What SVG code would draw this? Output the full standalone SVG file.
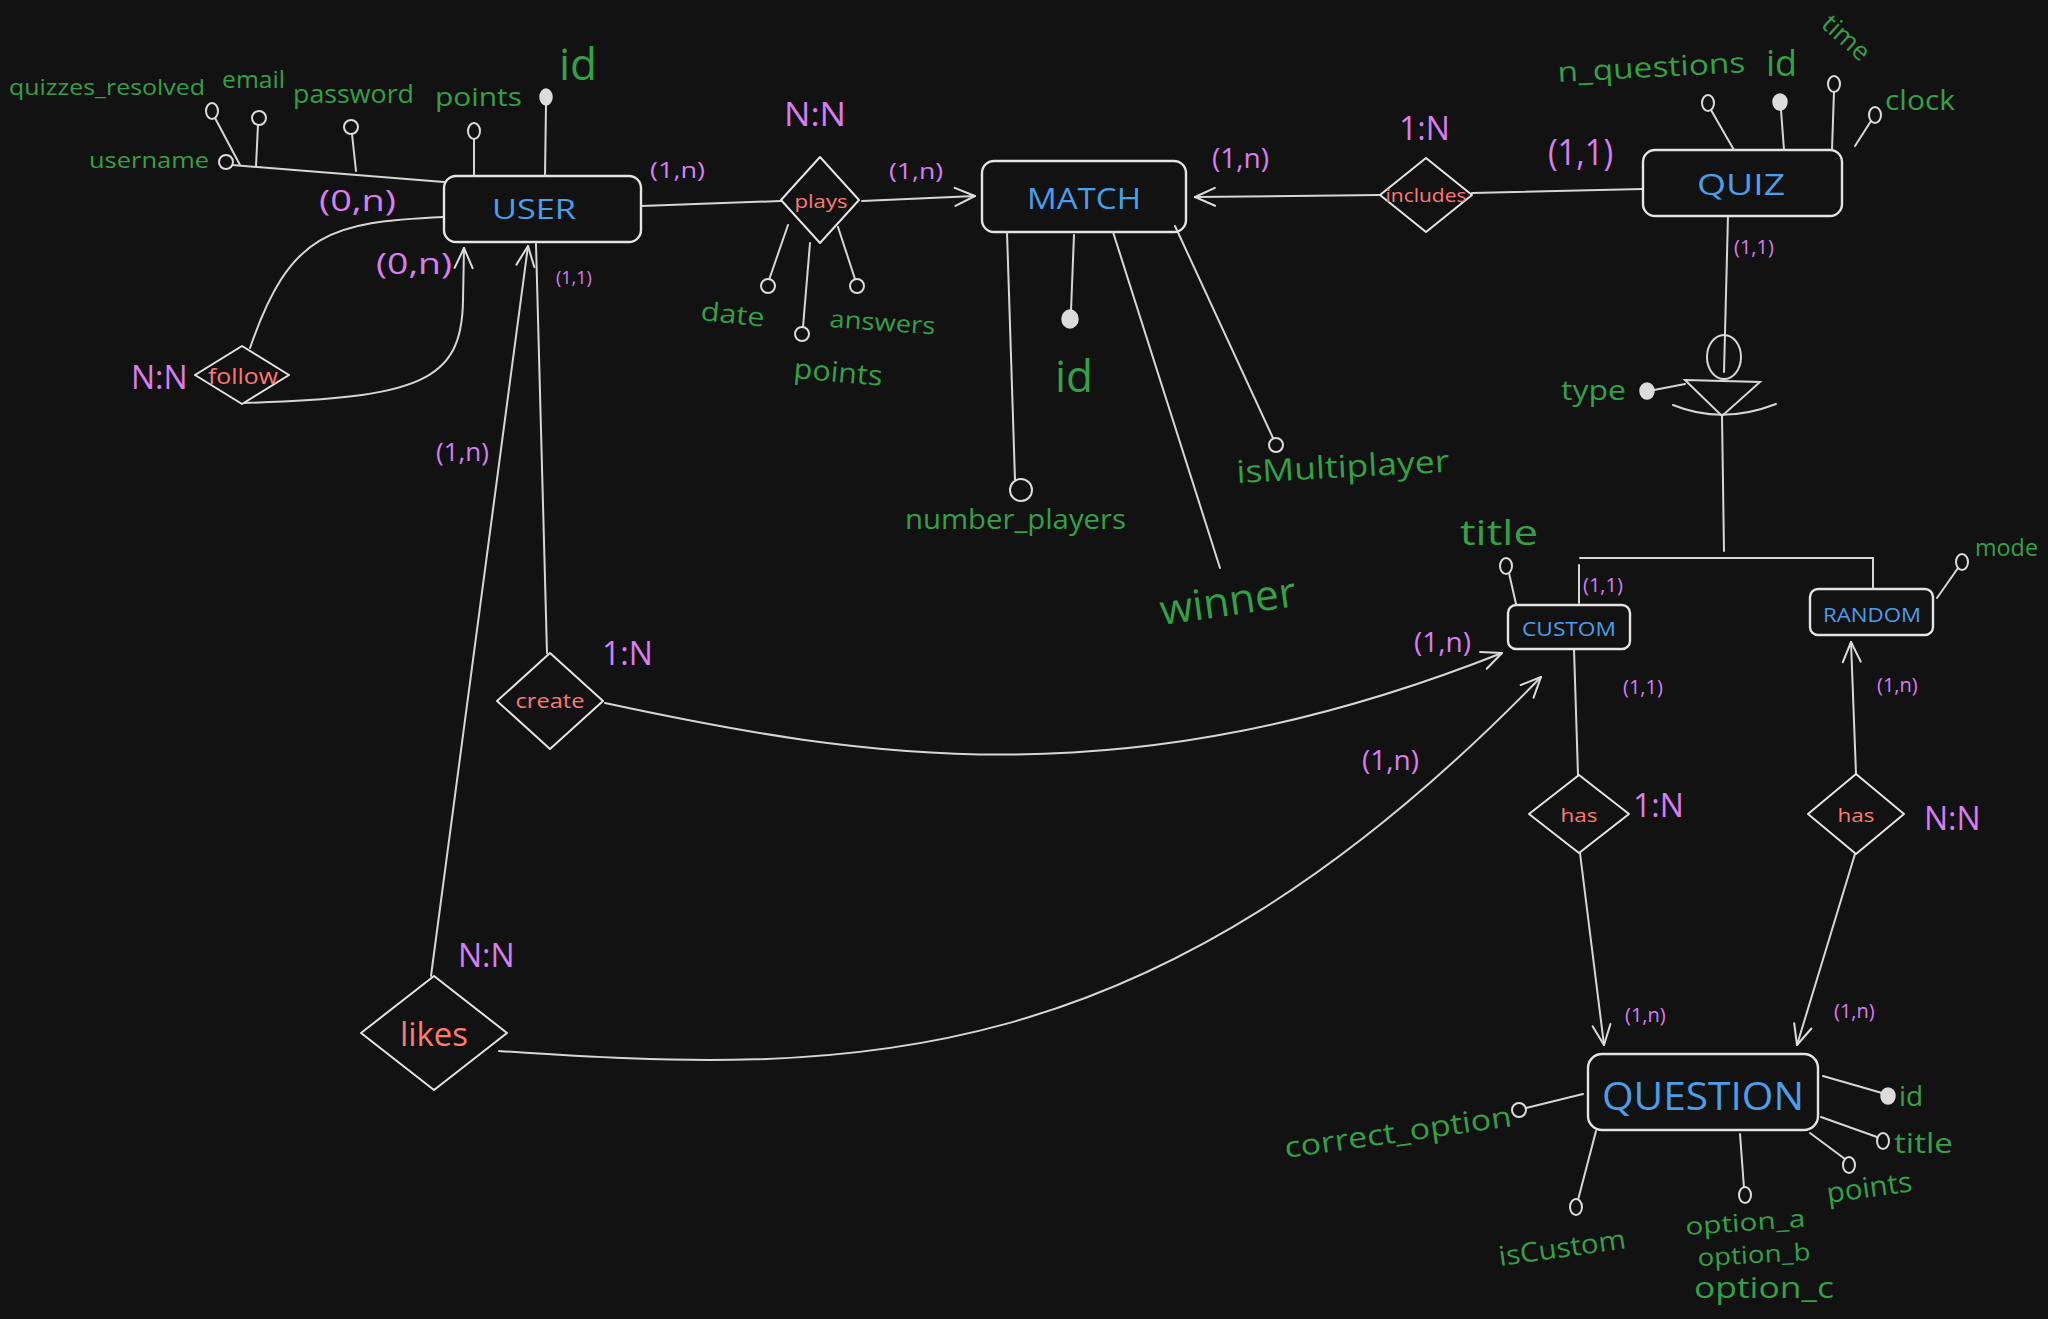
<svg xmlns="http://www.w3.org/2000/svg" width="2048" height="1319" viewBox="0 0 2048 1319">
<defs>
<marker id="arr" markerWidth="26" markerHeight="26" refX="22" refY="13" orient="auto" markerUnits="userSpaceOnUse">
<path d="M2,4 L22,13 L2,22" fill="none" stroke="#dcdcdc" stroke-width="2" stroke-linecap="round" stroke-linejoin="round"/>
</marker>
</defs>
<style>
.ent{fill:#121212;stroke:#e4e4e4;stroke-width:2.4}
.rel{fill:#121212;stroke:#e4e4e4;stroke-width:2;stroke-linejoin:round}
.ln{fill:none;stroke:#d6d6d6;stroke-width:2;stroke-linecap:round}
.ao{fill:#121212;stroke:#dcdcdc;stroke-width:2}
.af{fill:#dcdcdc;stroke:#dcdcdc;stroke-width:1.5}
text{font-family:"Open Sans","Noto Sans",sans-serif}
.et{fill:#4a9fea;text-anchor:middle;dominant-baseline:central}
.rt{fill:#ff7a72;text-anchor:middle;dominant-baseline:central}
.g{fill:#34a048}
.p{fill:#d97ef0}
</style>
<rect width="2048" height="1319" fill="#121212"/>

<g id="connectors">
<path class="ln" d="M641,206 L781,201"/>
<path class="ln" d="M862,201 L975,196" marker-end="url(#arr)"/>
<path class="ln" d="M1380,195 L1195,197" marker-end="url(#arr)"/>
<path class="ln" d="M1472,193 L1643,189"/>
<path class="ln" d="M444,217 C330,222 290,232 250,348"/>
<path class="ln" d="M242,403 C420,398 462,382 463,300 L464,248" marker-end="url(#arr)"/>
<path class="ln" d="M547,653 L536,244"/>
<path class="ln" d="M431,976 L528,246" marker-end="url(#arr)"/>
<path class="ln" d="M605,703 C870,760 1130,800 1502,653" marker-end="url(#arr)"/>
<path class="ln" d="M499,1051 C850,1075 1150,1080 1541,677" marker-end="url(#arr)"/>
<path class="ln" d="M1728,216 L1724,372"/>
<path class="ln" d="M1722,416 L1724,551"/>
<path class="ln" d="M1580,558 L1873,558"/>
<path class="ln" d="M1579,565 L1579,603"/>
<path class="ln" d="M1873,558 L1873,600"/>
<path class="ln" d="M1574,649 L1578,775"/>
<path class="ln" d="M1580,853 L1604,1045" marker-end="url(#arr)"/>
<path class="ln" d="M1856,774 L1851,642" marker-end="url(#arr)"/>
<path class="ln" d="M1855,854 L1797,1045" marker-end="url(#arr)"/>
</g>

<g id="labels">
<text class="p" x="319" y="211" font-size="30" textLength="77" lengthAdjust="spacingAndGlyphs">(0,n)</text>
<text class="p" x="376" y="274" font-size="30" textLength="76" lengthAdjust="spacingAndGlyphs">(0,n)</text>
<text class="p" x="556" y="284" font-size="18">(1,1)</text>
<text class="p" x="650" y="178" font-size="22" textLength="55" lengthAdjust="spacingAndGlyphs">(1,n)</text>
<text class="p" x="131" y="389" font-size="32">N:N</text>
<text class="p" x="784" y="126" font-size="32" textLength="62" lengthAdjust="spacingAndGlyphs">N:N</text>
<text class="p" x="889" y="179" font-size="22" textLength="54" lengthAdjust="spacingAndGlyphs">(1,n)</text>
<text class="p" x="1212" y="168" font-size="28">(1,n)</text>
<text class="p" x="1399" y="140" font-size="32">1:N</text>
<text class="p" x="1548" y="165" font-size="36" textLength="65" lengthAdjust="spacingAndGlyphs">(1,1)</text>
<text class="p" x="1734" y="254" font-size="20">(1,1)</text>
<text class="p" x="1583" y="592" font-size="20">(1,1)</text>
<text class="p" x="1414" y="652" font-size="28">(1,n)</text>
<text class="p" x="1362" y="770" font-size="28">(1,n)</text>
<text class="p" x="1623" y="694" font-size="20">(1,1)</text>
<text class="p" x="1633" y="817" font-size="32">1:N</text>
<text class="p" x="1625" y="1022" font-size="20">(1,n)</text>
<text class="p" x="1877" y="692" font-size="20">(1,n)</text>
<text class="p" x="1924" y="830" font-size="32">N:N</text>
<text class="p" x="1834" y="1018" font-size="20">(1,n)</text>
<text class="p" x="602" y="665" font-size="32">1:N</text>
<text class="p" x="458" y="967" font-size="32">N:N</text>
<text class="p" x="436" y="461" font-size="26">(1,n)</text>
</g>

<g id="user">
<rect class="ent" x="444" y="176" width="197" height="66" rx="12"/>
<text class="et" x="534" y="208" font-size="28" textLength="84" lengthAdjust="spacingAndGlyphs">USER</text>
<path class="ln" d="M232,165 L444,182"/>
<circle class="ao" cx="226" cy="162" r="7"/>
<text class="g" x="209" y="168" font-size="22" text-anchor="end" textLength="120" lengthAdjust="spacingAndGlyphs">username</text>
<path class="ln" d="M215,118 L240,165"/>
<ellipse class="ao" cx="212" cy="111" rx="6" ry="8"/>
<text class="g" x="9" y="95" font-size="21" textLength="196" lengthAdjust="spacingAndGlyphs">quizzes_resolved</text>
<path class="ln" d="M258,125 L256,166"/>
<circle class="ao" cx="259" cy="118" r="7"/>
<text class="g" x="222" y="88" font-size="23" textLength="63" lengthAdjust="spacingAndGlyphs">email</text>
<path class="ln" d="M352,134 L356,171"/>
<circle class="ao" cx="351" cy="127" r="7"/>
<text class="g" x="293" y="103" font-size="25" textLength="121" lengthAdjust="spacingAndGlyphs">password</text>
<path class="ln" d="M474,138 L474,176"/>
<ellipse class="ao" cx="474" cy="131" rx="6" ry="8"/>
<text class="g" x="435" y="106" font-size="26" textLength="87" lengthAdjust="spacingAndGlyphs">points</text>
<path class="ln" d="M546,104 L545,176"/>
<ellipse class="af" cx="546" cy="97" rx="6" ry="8"/>
<text class="g" x="559" y="80" font-size="44">id</text>
</g>

<g id="follow">
<path class="rel" d="M242,346 L289,375 L242,404 L195,375 Z"/>
<text class="rt" x="243" y="375" font-size="22" textLength="70" lengthAdjust="spacingAndGlyphs">follow</text>
</g>

<g id="plays">
<path class="rel" d="M820,157 L859,200 L820,243 L781,200 Z"/>
<text class="rt" x="821" y="201" font-size="18" textLength="53" lengthAdjust="spacingAndGlyphs">plays</text>
<path class="ln" d="M788,225 L769,280"/>
<circle class="ao" cx="768" cy="286" r="7"/>
<text class="g" x="700" y="320" font-size="26" transform="rotate(6 700 320)" textLength="64" lengthAdjust="spacingAndGlyphs">date</text>
<path class="ln" d="M810,243 L803,327"/>
<circle class="ao" cx="802" cy="334" r="7"/>
<text class="g" x="793" y="378" font-size="28" transform="rotate(5 793 378)" textLength="89" lengthAdjust="spacingAndGlyphs">points</text>
<path class="ln" d="M838,227 L855,279"/>
<circle class="ao" cx="857" cy="286" r="7"/>
<text class="g" x="829" y="327" font-size="24" transform="rotate(4 829 327)" textLength="106" lengthAdjust="spacingAndGlyphs">answers</text>
</g>

<g id="match">
<rect class="ent" x="982" y="161" width="204" height="71" rx="12"/>
<text class="et" x="1084" y="197" font-size="30" textLength="114" lengthAdjust="spacingAndGlyphs">MATCH</text>
<path class="ln" d="M1007,232 L1015,480"/>
<circle class="ao" cx="1021" cy="490" r="11"/>
<text class="g" x="905" y="529" font-size="27" textLength="221" lengthAdjust="spacingAndGlyphs">number_players</text>
<path class="ln" d="M1074,235 L1071,311"/>
<ellipse class="af" cx="1070" cy="319" rx="8" ry="9"/>
<text class="g" x="1055" y="392" font-size="44">id</text>
<path class="ln" d="M1113,232 L1220,568"/>
<text class="g" x="1162" y="625" font-size="42" transform="rotate(-8 1162 625)" textLength="137" lengthAdjust="spacingAndGlyphs">winner</text>
<path class="ln" d="M1175,226 L1273,438"/>
<circle class="ao" cx="1276" cy="445" r="7"/>
<text class="g" x="1237" y="483" font-size="31" transform="rotate(-3 1237 483)" textLength="213" lengthAdjust="spacingAndGlyphs">isMultiplayer</text>
</g>

<g id="includes">
<path class="rel" d="M1426,158 L1472,195 L1426,232 L1380,195 Z"/>
<text class="rt" x="1426" y="195" font-size="18" textLength="81" lengthAdjust="spacingAndGlyphs">includes</text>
</g>

<g id="quiz">
<rect class="ent" x="1643" y="150" width="199" height="66" rx="12"/>
<text class="et" x="1741" y="183" font-size="30" textLength="88" lengthAdjust="spacingAndGlyphs">QUIZ</text>
<path class="ln" d="M1711,110 L1734,150"/>
<ellipse class="ao" cx="1708" cy="103" rx="6" ry="8"/>
<text class="g" x="1558" y="82" font-size="28" transform="rotate(-3 1558 82)" textLength="188" lengthAdjust="spacingAndGlyphs">n_questions</text>
<path class="ln" d="M1781,110 L1784,150"/>
<ellipse class="af" cx="1780" cy="102" rx="7" ry="8"/>
<text class="g" x="1766" y="76" font-size="36">id</text>
<path class="ln" d="M1834,91 L1832,150"/>
<ellipse class="ao" cx="1834" cy="84" rx="6" ry="8"/>
<text class="g" x="1820" y="26" font-size="26" transform="rotate(42 1820 26)">time</text>
<path class="ln" d="M1871,121 L1855,146"/>
<ellipse class="ao" cx="1875" cy="115" rx="6" ry="8"/>
<text class="g" x="1885" y="110" font-size="28" textLength="70" lengthAdjust="spacingAndGlyphs">clock</text>
</g>

<g id="isa">
<ellipse class="ln" cx="1724" cy="357" rx="17" ry="22"/>
<path class="ln" d="M1685,380 L1760,382 L1722,416 Z"/>
<path class="ln" d="M1673,405 Q1722,425 1776,404"/>
<path class="ln" d="M1654,390 L1685,384"/>
<ellipse class="af" cx="1647" cy="391" rx="7" ry="8"/>
<text class="g" x="1561" y="400" font-size="28" textLength="65" lengthAdjust="spacingAndGlyphs">type</text>
</g>

<g id="custom">
<rect class="ent" x="1508" y="605" width="122" height="44" rx="8"/>
<text class="et" x="1569" y="628" font-size="20" textLength="94" lengthAdjust="spacingAndGlyphs">CUSTOM</text>
<path class="ln" d="M1509,573 L1516,604"/>
<ellipse class="ao" cx="1506" cy="566" rx="6" ry="8"/>
<text class="g" x="1460" y="545" font-size="34" textLength="78" lengthAdjust="spacingAndGlyphs">title</text>
</g>

<g id="random">
<rect class="ent" x="1810" y="589" width="123" height="46" rx="8"/>
<text class="et" x="1872" y="614" font-size="20" textLength="98" lengthAdjust="spacingAndGlyphs">RANDOM</text>
<path class="ln" d="M1958,568 L1937,598"/>
<ellipse class="ao" cx="1962" cy="562" rx="6" ry="8"/>
<text class="g" x="1975" y="556" font-size="24" textLength="63" lengthAdjust="spacingAndGlyphs">mode</text>
</g>

<g id="create">
<path class="rel" d="M550,653 L603,701 L550,749 L497,701 Z"/>
<text class="rt" x="550" y="700" font-size="20" textLength="69" lengthAdjust="spacingAndGlyphs">create</text>
</g>

<g id="likes">
<path class="rel" d="M434,976 L507,1033 L434,1090 L361,1033 Z"/>
<text class="rt" x="434" y="1033" font-size="32" textLength="68" lengthAdjust="spacingAndGlyphs">likes</text>
</g>

<g id="has-custom">
<path class="rel" d="M1579,775 L1629,814 L1579,853 L1529,814 Z"/>
<text class="rt" x="1579" y="815" font-size="18" textLength="37" lengthAdjust="spacingAndGlyphs">has</text>
</g>

<g id="has-random">
<path class="rel" d="M1856,774 L1904,814 L1856,854 L1808,814 Z"/>
<text class="rt" x="1856" y="815" font-size="18" textLength="37" lengthAdjust="spacingAndGlyphs">has</text>
</g>

<g id="question">
<rect class="ent" x="1588" y="1054" width="230" height="76" rx="14"/>
<text class="et" x="1703" y="1095" font-size="38" textLength="202" lengthAdjust="spacingAndGlyphs">QUESTION</text>
<path class="ln" d="M1526,1108 L1583,1094"/>
<circle class="ao" cx="1519" cy="1110" r="7"/>
<text class="g" x="1286" y="1158" font-size="29" transform="rotate(-8 1286 1158)" textLength="229" lengthAdjust="spacingAndGlyphs">correct_option</text>
<path class="ln" d="M1823,1076 L1882,1093"/>
<ellipse class="af" cx="1888" cy="1096" rx="7" ry="8"/>
<text class="g" x="1899" y="1106" font-size="28">id</text>
<path class="ln" d="M1821,1117 L1877,1137"/>
<ellipse class="ao" cx="1883" cy="1141" rx="6" ry="8"/>
<text class="g" x="1894" y="1153" font-size="28" textLength="59" lengthAdjust="spacingAndGlyphs">title</text>
<path class="ln" d="M1810,1133 L1845,1159"/>
<ellipse class="ao" cx="1849" cy="1165" rx="6" ry="8"/>
<text class="g" x="1828" y="1203" font-size="28" transform="rotate(-8 1828 1203)" textLength="86" lengthAdjust="spacingAndGlyphs">points</text>
<path class="ln" d="M1740,1134 L1744,1188"/>
<ellipse class="ao" cx="1745" cy="1195" rx="6" ry="8"/>
<text class="g" x="1686" y="1235" font-size="24" transform="rotate(-4 1686 1235)" textLength="120" lengthAdjust="spacingAndGlyphs">option_a</text>
<text class="g" x="1698" y="1266" font-size="24" transform="rotate(-3 1698 1266)" textLength="113" lengthAdjust="spacingAndGlyphs">option_b</text>
<text class="g" x="1694" y="1298" font-size="29" textLength="140" lengthAdjust="spacingAndGlyphs">option_c</text>
<path class="ln" d="M1596,1131 L1578,1200"/>
<ellipse class="ao" cx="1576" cy="1207" rx="6" ry="8"/>
<text class="g" x="1500" y="1266" font-size="27" transform="rotate(-8 1500 1266)" textLength="128" lengthAdjust="spacingAndGlyphs">isCustom</text>
</g>
</svg>
